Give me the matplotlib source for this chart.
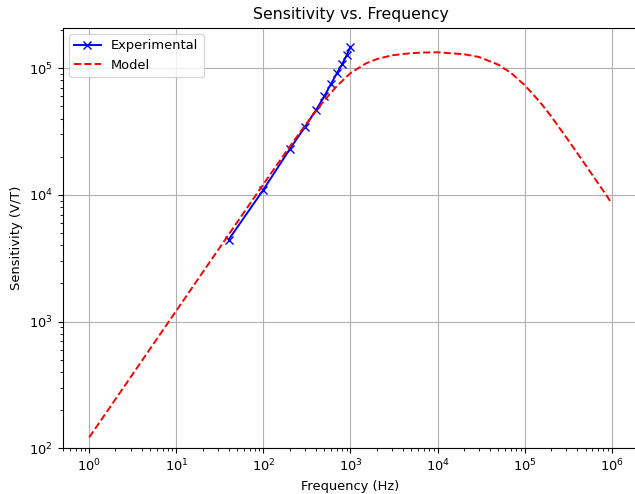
import matplotlib
matplotlib.use('Agg')
import matplotlib.pyplot as plt

# experimental points (Hz, V/T)
exp_freq = [40, 100, 200, 300, 400, 500, 600, 700, 800, 900, 1000]
exp_sens = [4440, 11000, 22900, 34400, 46500, 60000, 75600, 91600, 107000, 126000, 147000]

# model curve
model_freq = [1, 2, 5, 10, 20, 50, 100, 200, 300, 500, 700, 1000, 1500, 2000, 3000,
              5000, 7000, 10000, 20000, 30000, 50000, 70000, 100000, 150000,
              200000, 300000, 500000, 1000000]
model_sens = [122, 244, 610, 1220, 2440, 6090, 12150, 24000, 35300, 55800, 72500, 91500,
              109000, 118000, 126500, 131500, 133000, 133500, 129000, 122500, 106500,
              91500, 73500, 54000, 42000, 28500, 17200, 8600]

xticks = [1, 10, 100, 1000, 10000, 100000, 1000000]

plt.rcParams['font.size'] = 9.4
fig = plt.figure(figsize=(6.35, 4.94), dpi=100)
ax = fig.add_axes([0.0987, 0.0925, 0.9065, 0.8515])

ax.plot(exp_freq, exp_sens, 'b-x', label='Experimental', linewidth=1.4, markersize=5.6)
ax.plot(model_freq, model_sens, 'r--', label='Model', linewidth=1.4)

ax.set_xscale('log')
ax.set_yscale('log')
ax.set_xticks(xticks)
ax.set_xlim(10 ** -0.305, 10 ** 6.305)
ax.set_ylim(100, 10 ** 5.32)

ax.set_title('Sensitivity vs. Frequency', fontsize=11.3)
ax.set_xlabel('Frequency (Hz)')
ax.set_ylabel('Sensitivity (V/T)')
ax.grid(True)
ax.legend(loc='upper left')

fig.savefig('out.png', dpi=100)
